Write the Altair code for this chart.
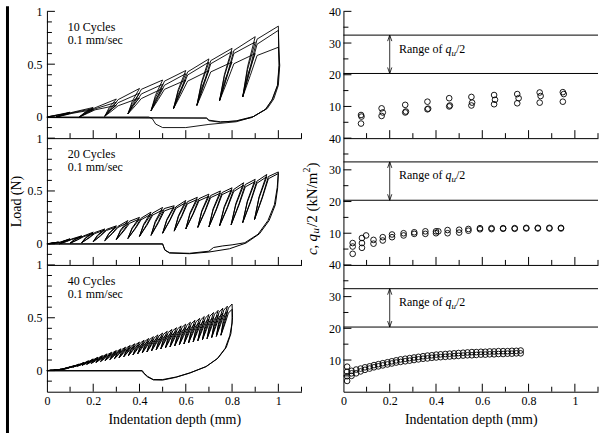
import altair as alt
import pandas as pd

FONT = "Liberation Serif"

# ================= Left column: load vs indentation depth =================
# ---- 10 cycles (three specimens) ----
X10 = [0.1, 0.2, 0.3, 0.4, 0.5, 0.6, 0.7, 0.8, 0.9, 1.0]
P10_A = [0.045, 0.09, 0.17, 0.27, 0.35, 0.44, 0.55, 0.65, 0.76, 0.86]
P10_B = [0.04, 0.08, 0.14, 0.225, 0.31, 0.41, 0.52, 0.62, 0.71, 0.82]
P10_C = [0.035, 0.07, 0.11, 0.18, 0.27, 0.35, 0.44, 0.52, 0.60, 0.66]
VX10 = [0.04, 0.14, 0.25, 0.35, 0.45, 0.547, 0.648, 0.746, 0.846]
VY10 = [0.0, 0.0, 0.007, 0.03, 0.06, 0.08, 0.11, 0.155, 0.19]
FX10_A = [1.004, 0.997, 0.975, 0.947, 0.889, 0.818, 0.70, 0.60, 0.50, 0.47, 0.455, 0.44, 0.0]
FY10_A = [0.49, 0.30, 0.17, 0.076, 0.0, -0.045, -0.07, -0.10, -0.10, -0.067, -0.015, 0.0, 0.0]
FX10_B = [1.003, 0.996, 0.972, 0.943, 0.885, 0.815, 0.75, 0.70, 0.69, 0.0]
FY10_B = [0.49, 0.30, 0.16, 0.07, -0.005, -0.04, -0.045, -0.03, -0.01, -0.005]
FX10_C = [1.006, 1.0, 0.98, 0.952, 0.893, 0.82, 0.75, 0.70, 0.69, 0.0]
FY10_C = [0.49, 0.30, 0.17, 0.08, 0.005, -0.035, -0.05, -0.035, -0.01, -0.005]

# ---- 20 cycles (two specimens) ----
X20 = [0.05, 0.1, 0.15, 0.2, 0.25, 0.3, 0.35, 0.4, 0.45, 0.5,
       0.55, 0.6, 0.65, 0.7, 0.75, 0.8, 0.85, 0.9, 0.95, 1.0]
P20_A = [0.016, 0.047, 0.075, 0.11, 0.14, 0.17, 0.22, 0.25, 0.30, 0.344,
         0.36, 0.41, 0.44, 0.47, 0.50, 0.53, 0.578, 0.61, 0.656, 0.68]
P20_B = [0.014, 0.042, 0.068, 0.10, 0.13, 0.16, 0.20, 0.235, 0.28, 0.32,
         0.345, 0.39, 0.42, 0.45, 0.48, 0.51, 0.555, 0.59, 0.635, 0.665]
VX20 = [0.01, 0.055, 0.10, 0.15, 0.20, 0.25, 0.30, 0.35, 0.40, 0.45,
        0.50, 0.55, 0.60, 0.652, 0.70, 0.746, 0.796, 0.846, 0.897]
VY20 = [0.0, 0.0, 0.005, 0.01, 0.02, 0.03, 0.04, 0.05, 0.07, 0.08,
        0.10, 0.12, 0.14, 0.155, 0.16, 0.17, 0.18, 0.20, 0.23]
FX20_A = [0.997, 0.987, 0.96, 0.918, 0.86, 0.789, 0.70, 0.616, 0.53, 0.51, 0.503, 0.50, 0.0]
FY20_A = [0.53, 0.37, 0.22, 0.094, 0.007, -0.047, -0.078, -0.094, -0.087, -0.06, -0.02, 0.0, 0.0]
FX20_B = [0.995, 0.983, 0.955, 0.912, 0.855, 0.80, 0.76, 0.72, 0.70, 0.616, 0.53, 0.51, 0.503, 0.50, 0.0]
FY20_B = [0.53, 0.37, 0.22, 0.09, 0.01, -0.01, -0.02, -0.035, -0.07, -0.09, -0.085, -0.06, -0.02, -0.003, -0.003]

# ---- 40 cycles (two specimens) ----
X40 = [0.02, 0.04, 0.06, 0.08, 0.10, 0.12, 0.14, 0.16, 0.18, 0.20,
       0.22, 0.24, 0.26, 0.28, 0.30, 0.32, 0.34, 0.36, 0.38, 0.40,
       0.42, 0.44, 0.46, 0.48, 0.50, 0.52, 0.54, 0.56, 0.58, 0.60,
       0.62, 0.64, 0.66, 0.68, 0.70, 0.72, 0.74, 0.76, 0.78, 0.80]
P40_A = [0.002, 0.006, 0.012, 0.02, 0.035, 0.048, 0.062, 0.077, 0.093, 0.11,
         0.126, 0.142, 0.158, 0.174, 0.19, 0.206, 0.222, 0.238, 0.254, 0.27,
         0.287, 0.304, 0.321, 0.338, 0.355, 0.372, 0.389, 0.406, 0.423, 0.44,
         0.458, 0.476, 0.494, 0.512, 0.53, 0.55, 0.57, 0.59, 0.61, 0.63]
P40_B = [0.002, 0.005, 0.011, 0.018, 0.032, 0.044, 0.057, 0.071, 0.086, 0.101,
         0.116, 0.131, 0.145, 0.16, 0.175, 0.19, 0.204, 0.219, 0.234, 0.248,
         0.264, 0.28, 0.295, 0.311, 0.327, 0.342, 0.358, 0.374, 0.389, 0.405,
         0.421, 0.438, 0.454, 0.471, 0.488, 0.506, 0.524, 0.543, 0.561, 0.58]
VX40 = [0.0, 0.012, 0.032, 0.052, 0.072, 0.092, 0.112, 0.132, 0.152, 0.172,
        0.192, 0.212, 0.232, 0.252, 0.272, 0.292, 0.312, 0.332, 0.352, 0.372,
        0.392, 0.412, 0.432, 0.452, 0.472, 0.492, 0.512, 0.532, 0.552, 0.572,
        0.592, 0.612, 0.632, 0.652, 0.672, 0.692, 0.712, 0.732, 0.752]
VY40 = [0.0, 0.002, 0.005, 0.009, 0.017, 0.025, 0.033, 0.042, 0.05, 0.059,
        0.068, 0.077, 0.086, 0.095, 0.104, 0.113, 0.122, 0.131, 0.14, 0.149,
        0.158, 0.167, 0.176, 0.186, 0.195, 0.205, 0.214, 0.224, 0.233, 0.243,
        0.252, 0.262, 0.272, 0.282, 0.292, 0.302, 0.313, 0.324, 0.335]
FX40_A = [0.802, 0.795, 0.775, 0.74, 0.69, 0.62, 0.56, 0.50, 0.46, 0.435, 0.42, 0.412, 0.0]
FY40_A = [0.50, 0.35, 0.22, 0.12, 0.04, -0.02, -0.06, -0.085, -0.085, -0.055, -0.025, 0.0, 0.0]
FX40_B = [0.80, 0.79, 0.77, 0.735, 0.685, 0.615, 0.555, 0.50, 0.46, 0.435, 0.42, 0.41, 0.0]
FY40_B = [0.45, 0.33, 0.21, 0.11, 0.035, -0.025, -0.065, -0.09, -0.088, -0.06, -0.03, -0.003, -0.003]

# ================= Right column: c, qu/2 vs indentation depth =================
C10_X = [0.076, 0.165, 0.267, 0.363, 0.457, 0.553, 0.651, 0.751, 0.848, 0.948]
C10_XB = [0.078, 0.170, 0.270, 0.366, 0.460, 0.556, 0.655, 0.757, 0.852, 0.952]
C10_Y1 = [7.3, 9.4, 10.5, 11.5, 12.6, 13.0, 13.6, 13.9, 14.4, 14.5]
C10_Y2 = [6.8, 8.1, 8.4, 9.3, 10.3, 11.2, 12.1, 12.6, 13.3, 13.9]
C10_Y3 = [4.6, 7.0, 8.1, 9.1, 10.0, 10.3, 10.7, 11.0, 11.2, 11.5]

C20_X = [0.04, 0.08, 0.13, 0.17, 0.21, 0.26, 0.306, 0.354, 0.40, 0.45,
         0.50, 0.54, 0.59, 0.64, 0.69, 0.74, 0.79, 0.84, 0.89, 0.94]
C20_Y1 = [6.9, 8.5, 7.9, 8.75, 9.6, 10.0, 10.3, 10.6, 10.6, 11.0,
          11.1, 11.35, 11.6, 11.6, 11.6, 11.6, 11.7, 11.7, 11.7, 11.7]
C20_Y2 = [5.8, 6.9, 6.7, 7.7, 8.75, 9.3, 9.8, 9.8, 10.0, 10.0,
          10.2, 10.8, 11.25, 11.3, 11.4, 11.4, 11.5, 11.5, 11.5, 11.5]
C20_EX = [0.04, 0.08, 0.098, 0.41]
C20_EY = [3.5, 5.4, 9.3, 10.6]

C40_X = [0.016, 0.035, 0.055, 0.074, 0.093, 0.113, 0.132, 0.151, 0.170, 0.190,
         0.209, 0.228, 0.247, 0.267, 0.286, 0.305, 0.324, 0.344, 0.363, 0.382,
         0.401, 0.420, 0.440, 0.459, 0.478, 0.497, 0.517, 0.536, 0.555, 0.574,
         0.594, 0.613, 0.632, 0.651, 0.670, 0.690, 0.709, 0.728, 0.747, 0.766]
C40_Y1 = [7.9, 6.6, 7.0, 7.3, 7.7, 8.0, 8.4, 8.7, 9.0, 9.3,
          9.6, 9.9, 10.2, 10.4, 10.6, 10.8, 11.0, 11.2, 11.4, 11.5,
          11.7, 11.8, 11.9, 12.0, 12.1, 12.2, 12.3, 12.4, 12.5, 12.5,
          12.6, 12.6, 12.7, 12.7, 12.8, 12.8, 12.8, 12.9, 12.9, 13.0]
C40_Y2 = [3.4, 5.0, 5.8, 6.4, 6.9, 7.3, 7.7, 8.0, 8.3, 8.6,
          8.9, 9.2, 9.4, 9.6, 9.8, 10.0, 10.2, 10.4, 10.5, 10.7,
          10.8, 10.9, 11.0, 11.1, 11.2, 11.3, 11.4, 11.5, 11.5, 11.6,
          11.7, 11.7, 11.8, 11.8, 11.9, 11.9, 12.0, 12.0, 12.1, 12.1]
C40_EX = [0.016, 0.016, 0.035]
C40_EY = [6.3, 4.9, 5.8]

QU_LINES = [32.5, 20.4]
ARROW_X = 0.2
RANGE_LABEL = (0.24, 27.0)

X_LABELS = [0, 0.2, 0.4, 0.6, 0.8, 1]
X_MAJ = [0.2, 0.4, 0.6, 0.8, 1.0]
X_MIN = [0.1, 0.3, 0.5, 0.7, 0.9, 1.1]
L_Y_LABELS = [0, 0.5, 1]
L_Y_MAJ = [0, 0.5, 1.0]
L_Y_MIN = [-0.1, 0.1, 0.2, 0.3, 0.4, 0.6, 0.7, 0.8, 0.9]
R_Y_LABELS = [10, 20, 30, 40]
R_Y_MAJ = [10, 20, 30, 40]
R_Y_MIN = [5, 15, 25, 35]

W, H = 255, 127
XS = alt.Scale(domain=[0, 1.1], nice=False, zero=False)
LYS = alt.Scale(domain=[-0.2, 1], nice=False, zero=False)
RYS = alt.Scale(domain=[0, 40], nice=False, zero=False)
ONE = pd.DataFrame({"d": [0]})
AX = dict(labelFont=FONT, labelFontSize=12, labelColor="black", ticks=False, grid=False,
          domain=True, domainColor="black", domainWidth=1)


def path_df(peak_x, peaks, vx, vy, fx, fy, sid, dx, w):
    """polyline through read peaks / valleys; each unload-reload pair drawn as a thin lens"""
    pts = [(0.0, 0.0)]
    for k, (px, py) in enumerate(zip(peak_x, peaks)):
        pts.append((px, py))
        if k < len(vx):
            mx, my = (px + vx[k]) / 2, (py + vy[k]) / 2
            pts.append((mx - w, my))
            pts.append((vx[k], vy[k]))
            pts.append((mx + w, my))
            pts.append((px + dx, py * 0.97))
    pts += list(zip(fx, fy))
    return pd.DataFrame({"x": [p[0] for p in pts], "y": [p[1] for p in pts],
                         "i": list(range(len(pts))), "s": sid})


def x_axis(bottom):
    if bottom:
        return alt.Axis(values=X_LABELS, format="~g", labelFlush=False, labelPadding=4,
                        title="Indentation depth (mm)", titlePadding=6, titleFont=FONT,
                        titleFontSize=14, titleFontWeight="normal", titleColor="black", **AX)
    return alt.Axis(labels=False, title=None, **AX)


def build_panel(main, xa, ya, ys, ymaj, ymin, extra):
    X = lambda f="x": alt.X(f + ":Q", scale=XS, axis=xa)
    Y = lambda f="y": alt.Y(f + ":Q", scale=ys, axis=ya)
    layers = list(main(X, Y))
    for vals, ln in ((ymaj, 8), (ymin, 5)):
        layers.append(alt.Chart(pd.DataFrame({"y": vals})).mark_rule(color="black", strokeWidth=1).encode(
            y=Y(), x=alt.value(0), x2=alt.value(ln)))
    for vals, ln in ((X_MAJ, 8), (X_MIN, 5)):
        layers.append(alt.Chart(pd.DataFrame({"x": vals})).mark_rule(color="black", strokeWidth=1).encode(
            x=X(), y=alt.value(H), y2=alt.value(H - ln)))
    layers += list(extra)
    return alt.layer(*layers).properties(width=W, height=H)


def left_panel(dfs, l1, bottom, sw, extra=()):
    data = pd.concat(dfs, ignore_index=True)
    xa = x_axis(bottom)
    ya = alt.Axis(values=L_Y_LABELS, format="~g", labelPadding=5, title=None, **AX)

    def main(X, Y):
        lines = alt.Chart(data).mark_line(color="black", strokeWidth=sw).encode(
            x=X(), y=Y(), detail="s:N", order=alt.Order("i:Q"))
        df = pd.DataFrame({"x": [0.09, 0.09], "y": [0.81, 0.69], "t": [l1, "0.1 mm/sec"]})
        txt = alt.Chart(df).mark_text(align="left", baseline="alphabetic", font=FONT, fontSize=12,
                                      color="black").encode(x=X(), y=Y(), text="t:N")
        return [lines, txt]

    return build_panel(main, xa, ya, LYS, L_Y_MAJ, L_Y_MIN, extra)


def right_panel(xs_list, ys_list, bottom, extra=()):
    xs, ys = [], []
    for a, b in zip(xs_list, ys_list):
        xs += a
        ys += b
    xa = x_axis(bottom)
    ya = alt.Axis(values=R_Y_LABELS, format="d", labelPadding=3, title=None, **AX)

    def main(X, Y):
        pts = alt.Chart(pd.DataFrame({"x": xs, "y": ys})).mark_point(
            shape="circle", filled=False, color="black", size=32, strokeWidth=0.9, opacity=1).encode(
            x=X(), y=Y())
        hl = alt.Chart(pd.DataFrame({"y": QU_LINES})).mark_rule(color="black", strokeWidth=1).encode(y=Y())
        arr = alt.Chart(pd.DataFrame({"x": [ARROW_X], "y": [QU_LINES[1]], "y2": [QU_LINES[0]]})).mark_rule(
            color="black", strokeWidth=0.8).encode(x=X(), y=Y(), y2="y2:Q")
        head_top = alt.Chart(pd.DataFrame({"x": [ARROW_X], "y": [QU_LINES[0]]})).mark_point(
            shape="M -0.35 1 L 0 0 L 0.35 1", filled=False, color="black", size=144, strokeWidth=0.8,
            opacity=1).encode(x=X(), y=Y())
        head_bot = alt.Chart(pd.DataFrame({"x": [ARROW_X], "y": [QU_LINES[1]]})).mark_point(
            shape="M -0.35 -1 L 0 0 L 0.35 -1", filled=False, color="black", size=144, strokeWidth=0.8,
            opacity=1).encode(x=X(), y=Y())
        lab_df = pd.DataFrame({"x": [RANGE_LABEL[0]], "y": [RANGE_LABEL[1]]})
        common = dict(align="left", baseline="alphabetic", font=FONT, color="black")
        t1 = alt.Chart(lab_df).mark_text(text="Range of", fontSize=12, **common).encode(x=X(), y=Y())
        t2 = alt.Chart(lab_df).mark_text(text="q", fontSize=12, fontStyle="italic", dx=46.5,
                                         **common).encode(x=X(), y=Y())
        t3 = alt.Chart(lab_df).mark_text(text="u", fontSize=9, fontStyle="italic", dx=52.5, dy=3,
                                         **common).encode(x=X(), y=Y())
        t4 = alt.Chart(lab_df).mark_text(text="/2", fontSize=12, dx=57, **common).encode(x=X(), y=Y())
        return [pts, hl, arr, head_top, head_bot, t1, t2, t3, t4]

    return build_panel(main, xa, ya, RYS, R_Y_MAJ, R_Y_MIN, extra)


# loops
d10 = [path_df(X10, P10_A, VX10, VY10, FX10_A, FY10_A, "A", 0.008, 0.006),
       path_df(X10, P10_B, VX10, VY10, FX10_B, FY10_B, "B", 0.008, 0.006),
       path_df(X10, P10_C, VX10, VY10, FX10_C, FY10_C, "C", 0.008, 0.006)]
d20 = [path_df(X20, P20_A, VX20, VY20, FX20_A, FY20_A, "A", 0.007, 0.007),
       path_df(X20, P20_B, VX20, VY20, FX20_B, FY20_B, "B", 0.007, 0.007)]
d40 = [path_df(X40, P40_A, VX40, VY40, FX40_A, FY40_A, "A", 0.004, 0.004),
       path_df(X40, P40_B, VX40, VY40, FX40_B, FY40_B, "B", 0.004, 0.004)]

bar = alt.Chart(ONE).mark_rule(color="black", strokeWidth=3).encode(
    x=alt.value(-39.5), y=alt.value(-5), y2=alt.value(425))

load_title = alt.Chart(ONE).mark_text(text="Load (N)", angle=270, align="center", baseline="middle",
                                      font=FONT, fontSize=14, color="black").encode(
    x=alt.value(-30), y=alt.value(63.5))

# right y title pieces (rotated, reading upward)
pieces = [("c", 15, "italic", -31, 117), (",", 15, "normal", -31, 110.5),
          ("q", 15, "italic", -31, 103.5), ("u", 11, "italic", -27, 95.5),
          ("/2 (kN/m", 15, "normal", -31, 89.0), ("2", 10, "normal", -36.5, 34.5),
          (")", 15, "normal", -31, 29.5)]
rt_layers = []
for txt, fs, st, px, py in pieces:
    rt_layers.append(alt.Chart(ONE).mark_text(text=txt, angle=270, align="left", baseline="middle",
                                              font=FONT, fontSize=fs, fontStyle=st, color="black").encode(
        x=alt.value(px), y=alt.value(py)))

L1 = left_panel(d10, "10 Cycles", False, 0.9, extra=[bar])
L2 = left_panel(d20, "20 Cycles", False, 1.0, extra=[load_title])
L3 = left_panel(d40, "40 Cycles", True, 1.0)

R1 = right_panel([C10_X, C10_XB, C10_X], [C10_Y1, C10_Y2, C10_Y3], False)
R2 = right_panel([C20_X, C20_X, C20_EX], [C20_Y1, C20_Y2, C20_EY], False, extra=rt_layers)
R3 = right_panel([C40_X, C40_X, C40_EX], [C40_Y1, C40_Y2, C40_EY], True)

chart = alt.concat(L1, R1, L2, R2, L3, R3, columns=2, spacing={"row": 0, "column": 42},
                   bounds="flush").properties(
    padding={"left": 6, "top": 4, "right": 3, "bottom": 3},
    background="white",
).configure(font=FONT).configure_view(strokeWidth=0).configure_axis(
    labelFont=FONT, titleFont=FONT)

chart.save("out.html", embed_options={"renderer": "svg", "actions": False})
